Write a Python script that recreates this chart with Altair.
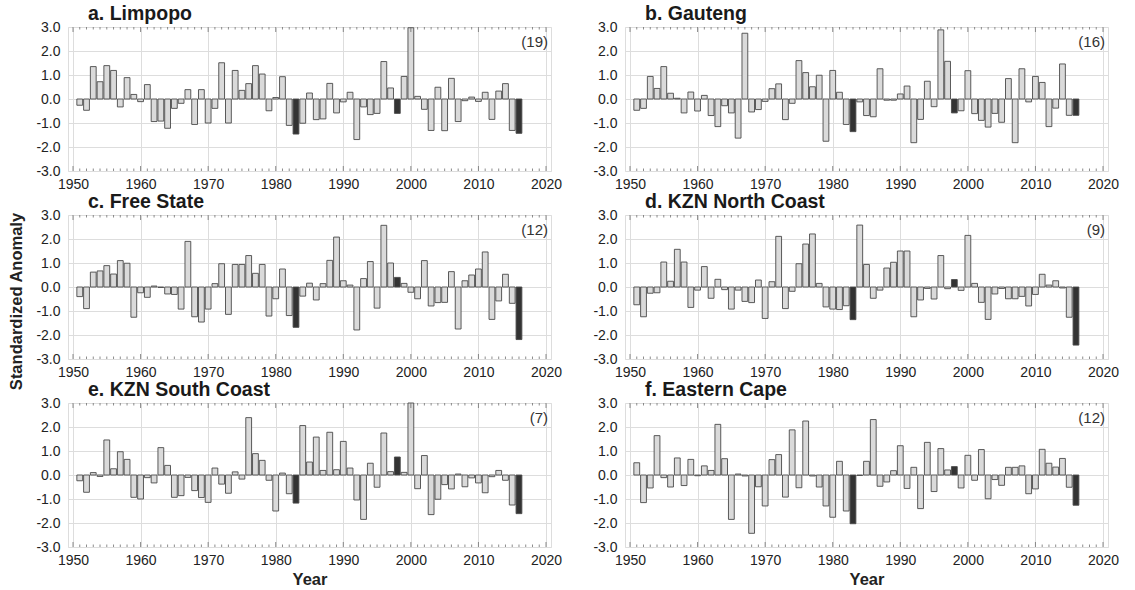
import altair as alt
import pandas as pd

# ---------------- data ----------------
years = list(range(1951, 2017))

limpopo = [
    -0.26, -0.47, 1.35, 0.72, 1.39, 1.19, -0.33, 0.89, 0.19, -0.11,
    0.60, -0.94, -0.92, -1.22, -0.39, -0.18, 0.39, -1.06, 0.39, -1.00,
    -0.39, 1.51, -1.00, 1.19, 0.36, 0.64, 1.39, 1.04, -0.49, 0.06,
    0.93, -1.10, -1.46, -1.01, 0.25, -0.86, -0.83, 0.65, -0.58, -0.12,
    0.28, -1.69, -0.33, -0.65, -0.60, 1.56, 0.46, -0.60, 0.94, 2.97,
    0.11, -0.43, -1.31, 0.49, -1.32, 0.86, -0.94, -0.07, 0.08, -0.10,
    0.28, -0.85, 0.33, 0.64, -1.31, -1.43,
]
gauteng = [
    -0.47, -0.39, 0.94, 0.44, 1.35, 0.24, 0.03, -0.58, 0.29, -0.50,
    0.15, -0.69, -1.15, -0.28, -0.58, -1.63, 2.74, -0.54, -0.44, -0.10,
    0.43, 0.63, -0.86, -0.18, 1.60, 1.10, 0.51, 0.99, -1.76, 1.19,
    0.28, -1.06, -1.36, -0.12, -0.69, -0.74, 1.26, -0.05, -0.05, 0.21,
    0.54, -1.82, -0.85, 0.74, -0.32, 2.88, 1.57, -0.58, -0.49, 1.18,
    -0.61, -0.89, -1.17, -0.60, -0.97, 0.85, -1.82, 1.26, -0.12, 0.94,
    0.69, -1.15, -0.38, 1.46, -0.68, -0.68,
]
free_state = [
    -0.40, -0.90, 0.62, 0.67, 0.89, 0.54, 1.10, 0.99, -1.26, -0.24,
    -0.43, 0.04, -0.02, -0.29, -0.31, -0.92, 1.90, -1.24, -1.46, -0.92,
    0.14, 0.97, -1.14, 0.94, 0.94, 1.31, 0.57, 0.94, -1.21, -0.49,
    0.75, -1.19, -1.68, -0.38, 0.16, -0.54, 0.14, 1.11, 2.08, 0.26,
    0.08, -1.79, 0.35, 1.06, -0.88, 2.57, 1.00, 0.40, 0.15, -0.22,
    -0.49, 1.10, -0.79, -0.65, -0.64, 0.64, -1.75, 0.26, 0.50, 0.75,
    1.46, -1.35, -0.58, 0.53, -0.68, -2.19,
]
kzn_north = [
    -0.74, -1.24, -0.26, -0.24, 1.04, 0.24, 1.57, 1.04, -0.85, -0.13,
    0.85, -0.47, 0.32, -0.11, -0.92, -0.13, -0.60, -0.65, 0.29, -1.31,
    0.22, 2.11, -0.90, -0.18, 0.97, 1.79, 2.21, 0.15, -0.83, -0.92,
    -0.94, -0.78, -1.36, 2.58, 0.94, -0.47, -0.13, 0.79, 1.03, 1.50,
    1.50, -1.24, -0.54, -0.06, -0.50, 1.31, -0.07, 0.31, -0.14, 2.15,
    0.15, -0.64, -1.35, -0.29, -0.06, -0.49, -0.49, -0.39, -0.79, -0.31,
    0.53, 0.08, 0.26, -0.04, -1.26, -2.42,
]
kzn_south = [
    -0.24, -0.72, 0.10, -0.06, 1.46, 0.26, 0.97, 0.65, -0.93, -1.00,
    -0.11, -0.33, 1.14, 0.40, -0.93, -0.86, -0.10, -0.65, -0.94, -1.14,
    0.29, -0.38, -0.76, 0.13, -0.17, 2.39, 0.89, 0.61, -0.22, -1.50,
    0.08, -0.78, -1.17, 2.06, 0.54, 1.58, 0.19, 1.78, 0.22, 1.40,
    0.29, -1.04, -1.85, 0.49, -0.51, 1.75, 0.14, 0.75, 0.11, 3.00,
    -0.57, 0.81, -1.65, -1.01, -0.40, -0.58, 0.04, -0.49, -0.12, -0.33,
    -0.74, -0.07, 0.19, -0.22, -1.25, -1.61,
]
eastern_cape = [
    0.51, -1.15, -0.54, 1.64, -0.11, -0.50, 0.71, -0.44, 0.65, -0.03,
    0.38, 0.19, 2.11, 0.68, -1.85, 0.04, -0.04, -2.43, -0.49, -1.29,
    0.64, 0.85, -0.92, 1.88, -0.53, 2.25, -0.04, -0.50, -1.29, -1.76,
    0.57, -1.50, -2.03, -0.02, 0.57, 2.31, -0.47, -0.29, 0.18, 1.22,
    -0.56, 0.32, -1.40, 1.36, -0.69, 1.10, 0.21, 0.35, -0.54, 0.82,
    -0.22, 1.06, -0.99, -0.19, -0.43, 0.32, 0.32, 0.38, -0.78, -0.58,
    1.07, 0.49, 0.33, 0.69, -0.51, -1.26,
]

series = [limpopo, gauteng, free_state, kzn_north, kzn_south, eastern_cape]
panel_titles = ["a. Limpopo", "b. Gauteng", "c. Free State",
                "d. KZN North Coast", "e. KZN South Coast", "f. Eastern Cape"]
counts = [19, 16, 12, 9, 7, 12]
highlight_years = [1983, 1998, 2016]
x_label_years = list(range(1950, 2021, 10))
x_minor_years = [y for y in range(1950, 2021) if y % 10 != 0]
y_ticks = [-3.0, -2.0, -1.0, 0.0, 1.0, 2.0, 3.0]

# ---------------- styling ----------------
FONT = "Liberation Sans"
W, H = 483, 144
TICK_COLOR = "#6e6e6e"

xscale = alt.Scale(domain=[1950, 2020], nice=False, zero=False)
yscale = alt.Scale(domain=[-3, 3], nice=False, zero=False)

major_df = pd.DataFrame({"year": x_label_years})
minor_df = pd.DataFrame({"year": x_minor_years})


def make_panel(i, values):
    df = pd.DataFrame({
        "year": years,
        "value": values,
        "kind": ["hi" if y in highlight_years else "norm" for y in years],
    })
    xaxis = alt.Axis(
        values=x_label_years, format="d", labelFlush=False,
        labelFontSize=14, labelPadding=6, labelColor="#222",
        title="Year" if i >= 4 else None,
        titleFontSize=16.5, titleFontWeight="bold", titlePadding=4, titleColor="#222",
        grid=True, ticks=False, domain=False,
    )
    yaxis = alt.Axis(
        values=y_ticks,
        labelExpr="replace(format(datum.value, '.1f'), '\u2212', '-')",
        labelFontSize=14, labelPadding=8, labelColor="#222",
        title="Standardized Anomaly" if i == 2 else None,
        titleFontSize=16.5, titleFontWeight="bold", titlePadding=11, titleColor="#222",
        titleY=H / 2 + 14,
        grid=True, ticks=False, domain=False,
    )
    X = alt.X("year:Q", scale=xscale, axis=xaxis)

    bars = alt.Chart(df).mark_bar(
        orient="vertical", size=5.8, stroke="#4a4a4a", strokeWidth=0.9
    ).encode(
        x=X,
        y=alt.Y("value:Q", scale=yscale, axis=yaxis),
        fill=alt.Fill("kind:N", scale=alt.Scale(domain=["norm", "hi"],
                                                range=["#dadada", "#333333"]),
                      legend=None),
    )

    def ticks(d, y0, y1):
        return alt.Chart(d).mark_rule(color=TICK_COLOR, strokeWidth=0.8).encode(
            x=X, y=alt.value(y0), y2=alt.value(y1))

    t_bot_major = ticks(major_df, H - 5, H)
    t_bot_minor = ticks(minor_df, H - 2.5, H)
    t_top_major = ticks(major_df, 0, 5)
    t_top_minor = ticks(minor_df, 0, 2.5)

    cnt = alt.Chart(pd.DataFrame({"label": [f"({counts[i]})"]})).mark_text(
        align="right", baseline="middle", font=FONT, fontSize=15, color="#333"
    ).encode(x=alt.value(W - 3), y=alt.value(15), text="label:N")

    return alt.layer(bars, t_bot_major, t_bot_minor, t_top_major, t_top_minor, cnt).properties(
        width=W, height=H,
        title=alt.TitleParams(panel_titles[i], anchor="start", frame="group", dx=20, offset=-4,
                              fontSize=19.5, fontWeight="bold", color="#1a1a1a", font=FONT),
    )


panels = [make_panel(i, s) for i, s in enumerate(series)]

chart = alt.concat(
    *panels, columns=2, spacing={"row": 44, "column": 74}, bounds="flush"
).properties(
    padding={"left": 8, "top": 3, "right": 5, "bottom": 2}
).configure_view(
    stroke="#8a8a8a", strokeWidth=1
).configure_axis(
    labelFont=FONT, titleFont=FONT, gridColor="#e4e4e4", gridWidth=1
).configure(background="white")

chart.save("out.html", embed_options={"renderer": "svg", "actions": False})
